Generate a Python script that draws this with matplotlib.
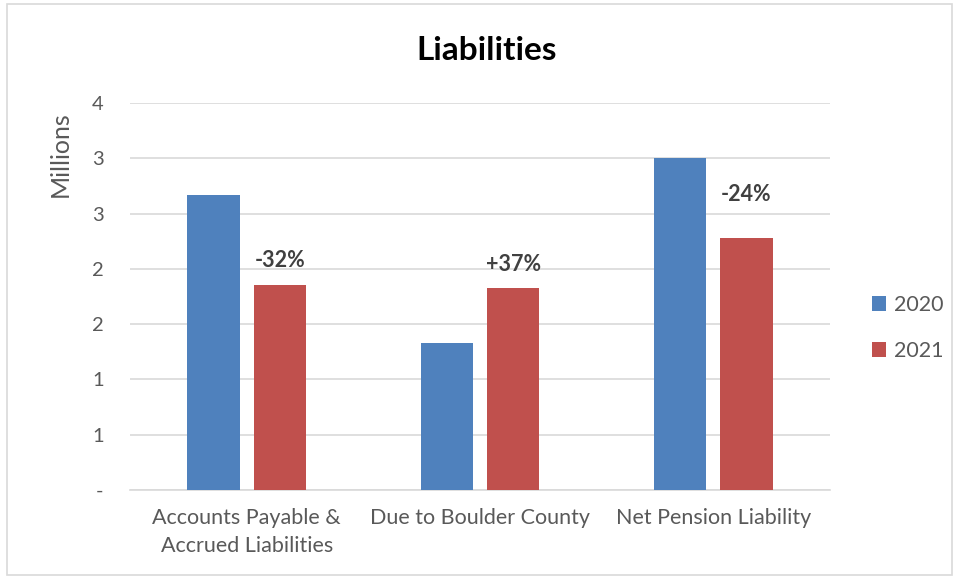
import matplotlib
matplotlib.use("Agg")
import matplotlib.pyplot as plt
import numpy as np
from matplotlib.patches import Rectangle
from matplotlib.ticker import FuncFormatter

categories = ["Accounts Payable &\nAccrued Liabilities", "Due to Boulder County", "Net Pension Liability"]
values_2020 = [2.665, 1.333, 3.0]
values_2021 = [1.853, 1.827, 2.28]
change_labels = ["-32%", "+37%", "-24%"]
label_offsets = [18, 17, 31]

BLUE = "#4F81BD"
RED = "#C0504D"
TEXT = "#595959"

plt.rcParams["font.family"] = ["Lato", "DejaVu Sans"]

fig = plt.figure(figsize=(9.56, 5.79), dpi=100)
ax = fig.add_axes([130 / 956, 1 - 490 / 579, 700 / 956, 387 / 579])

x = np.arange(len(categories))
w = 0.224
off = 0.142
ax.bar(x - off, values_2020, w, color=BLUE, label="2020", zorder=3)
bars21 = ax.bar(x + off, values_2021, w, color=RED, label="2021", zorder=3)

for b, lab, dy in zip(bars21, change_labels, label_offsets):
    ax.annotate(lab, (b.get_x() + b.get_width() / 2, b.get_height()),
                xytext=(0, dy), textcoords="offset points", ha="center", va="center",
                fontsize=15.5, fontweight="bold", color="#404040")

ax.set_xlim(-0.5, 2.5)
ax.set_ylim(0, 3.5)
ax.set_yticks(np.arange(0, 3.51, 0.5))
ax.yaxis.set_major_formatter(FuncFormatter(lambda v, p: "-" if v == 0 else f"{int(np.floor(v + 0.5))}"))
ax.set_xticks(x)
ax.set_xticklabels(categories, fontsize=15.5, color=TEXT, linespacing=1.5)
ax.tick_params(axis="y", length=0, labelsize=14.5, labelcolor=TEXT, pad=19)
ax.tick_params(axis="x", length=0, pad=13)
ax.grid(axis="y", color="#D9D9D9", linewidth=1.2, zorder=0)
for s in ["top", "right", "left"]:
    ax.spines[s].set_visible(False)
ax.spines["bottom"].set_color("#D9D9D9")
ax.spines["bottom"].set_linewidth(1.2)

fig.text(487 / 956, 1 - 50 / 579, "Liabilities", ha="center", va="center",
         fontsize=24, fontweight="bold", color="black")
fig.text(60 / 956, 1 - 154 / 579, "Millions", rotation=90, ha="center", va="center",
         fontsize=18, color=TEXT)

leg = fig.legend(loc="center left", bbox_to_anchor=(853 / 956, 1 - 328 / 579),
                 frameon=False, fontsize=15.5, handlelength=0.65, handleheight=0.65,
                 labelspacing=1.2, handletextpad=0.35)
for t in leg.get_texts():
    t.set_color(TEXT)

fig.patches.append(Rectangle((7 / 956, 4 / 579), 945 / 956, 571 / 579, transform=fig.transFigure,
                             fill=False, edgecolor="#D9D9D9", linewidth=1.2))

fig.savefig("out.png", dpi=100)
